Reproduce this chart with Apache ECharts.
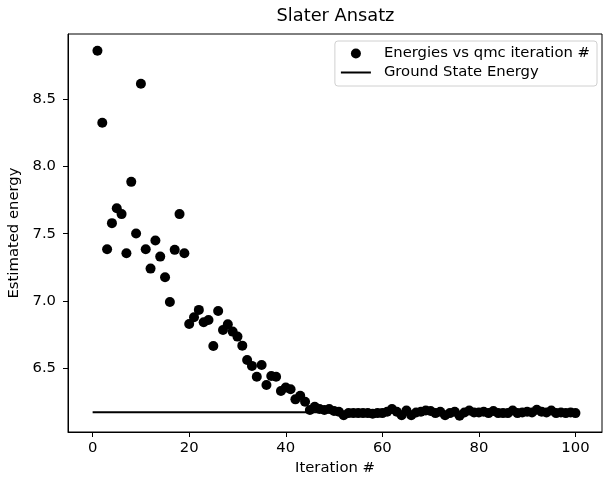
<!DOCTYPE html>
<html>
<head>
<meta charset="utf-8">
<script src="https://cdn.jsdelivr.net/npm/echarts@6/dist/echarts.min.js"></script>
<style>html,body{margin:0;padding:0;background:#fff}#c{width:604px;height:478px}</style>
</head>
<body>
<div id="c"></div>
<script>
const iterations = [];
for (let i = 1; i <= 100; i++) iterations.push(i);
const energies = [
  8.856, 8.322, 7.385, 7.578, 7.689, 7.645, 7.355, 7.884, 7.501, 8.611,
  7.385, 7.241, 7.449, 7.330, 7.177, 6.994, 7.380, 7.645, 7.355, 6.830,
  6.880, 6.935, 6.843, 6.860, 6.668, 6.927, 6.786, 6.829, 6.774, 6.737,
  6.670, 6.564, 6.520, 6.440, 6.527, 6.378, 6.445, 6.440, 6.334, 6.359,
  6.347, 6.272, 6.299, 6.254, 6.193, 6.217, 6.200, 6.193, 6.200, 6.185,
  6.180, 6.155, 6.170, 6.170, 6.170, 6.170, 6.170, 6.165, 6.170, 6.170,
  6.180, 6.200, 6.180, 6.155, 6.190, 6.155, 6.175, 6.180, 6.190, 6.185,
  6.170, 6.180, 6.155, 6.170, 6.180, 6.150, 6.175, 6.190, 6.175, 6.175,
  6.180, 6.170, 6.185, 6.170, 6.170, 6.170, 6.190, 6.170, 6.175, 6.180,
  6.175, 6.195, 6.180, 6.175, 6.190, 6.170, 6.175, 6.170, 6.175, 6.170
];
const groundX = [0, 100];
const groundEnergy = 6.177;
const xTicks = [0, 20, 40, 60, 80, 100];
const yTicks = [6.5, 7.0, 7.5, 8.0, 8.5];

const scatterData = iterations.map((x, i) => [x, energies[i]]);
const lineData = groundX.map(x => [x, groundEnergy]);
const font = 'DejaVu Sans';
const fs = 14.8;

const chart = echarts.init(document.getElementById('c'), null, {renderer: 'canvas'});
chart.setOption({
  animation: false,
  backgroundColor: '#fff',
  textStyle: {fontFamily: font, color: '#000'},
  title: {
    text: 'Slater Ansatz', left: 335.5, top: 7, textAlign: 'center', padding: 0,
    textStyle: {fontFamily: font, fontSize: 17.8, fontWeight: 'normal', color: '#000'}
  },
  grid: {left: 68, right: 2, top: 34, bottom: 46, show: true, borderColor: '#000', borderWidth: 1,
    containLabel: false, outerBoundsMode: 'none'},
  legend: {
    orient: 'vertical', right: 7, top: 41,
    padding: [5, 7, 6, 5], itemGap: 4, itemWidth: 30, itemHeight: 10,
    borderColor: '#d0d0d0', borderWidth: 1, borderRadius: 3,
    textStyle: {fontFamily: font, fontSize: fs, color: '#000', padding: [0, 0, 0, 8]},
    data: [
      {name: 'Energies vs qmc iteration #', icon: 'circle'},
      {name: 'Ground State Energy', itemStyle: {opacity: 0}}
    ]
  },
  xAxis: {
    type: 'value', min: -5.1, max: 105.5,
    name: 'Iteration #', nameLocation: 'middle', nameGap: 28,
    nameTextStyle: {fontFamily: font, fontSize: fs, color: '#000'},
    axisLine: {show: true, onZero: false, lineStyle: {color: '#000', width: 1}},
    axisTick: {show: true, length: 5, lineStyle: {color: '#000'}, customValues: xTicks},
    axisLabel: {fontFamily: font, fontSize: fs, color: '#000', margin: 9, customValues: xTicks},
    splitLine: {show: false}
  },
  yAxis: {
    type: 'value', min: 6.03, max: 8.98,
    name: 'Estimated energy', nameLocation: 'middle', nameGap: 40, nameRotate: 90,
    nameTextStyle: {fontFamily: font, fontSize: fs, color: '#000'},
    axisLine: {show: true, onZero: false, lineStyle: {color: '#000', width: 1}},
    axisTick: {show: true, length: 5, lineStyle: {color: '#000'}, customValues: yTicks},
    axisLabel: {fontFamily: font, fontSize: fs, color: '#000', margin: 12, customValues: yTicks,
      formatter: v => v.toFixed(1)},
    splitLine: {show: false}
  },
  series: [
    {
      name: 'Ground State Energy', type: 'line', data: lineData,
      symbol: 'none', lineStyle: {color: '#000', width: 2}, itemStyle: {color: '#000'}, z: 1
    },
    {
      name: 'Energies vs qmc iteration #', type: 'scatter', data: scatterData,
      symbol: 'circle', symbolSize: 10, itemStyle: {color: '#000', opacity: 1}, z: 2
    }
  ]
});
</script>
</body>
</html>
